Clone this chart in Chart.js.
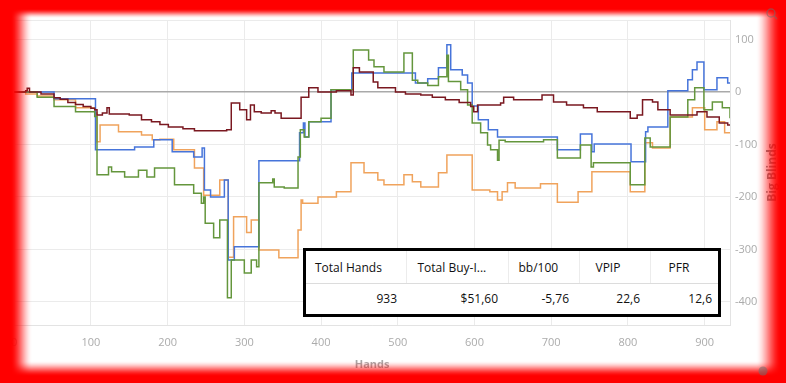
<!DOCTYPE html>
<html>
<head>
<meta charset="utf-8">
<script src="https://cdn.jsdelivr.net/npm/chart.js@4.4.1/dist/chart.umd.min.js"></script>
<style>
  html, body { margin: 0; padding: 0; background: #fff; }
  #wrap { position: relative; width: 786px; height: 383px; overflow: hidden; }
  #stats {
    position: absolute; left: 303px; top: 248px;
    width: 412px; height: 63px;
    border: 3px solid #000; background: #fff;
    font-family: "Open Sans", sans-serif; font-size: 12px; color: #111;
  }
  #stats table { border-collapse: collapse; table-layout: fixed; width: 412px; }
  #stats td { padding: 0; white-space: nowrap; overflow: hidden; }
  #stats tr.head td { height: 32px; border-bottom: 1px solid #dcdcdc; border-right: 1px solid #ececec; text-align: left; }
  #stats tr.head td:last-child { border-right: none; }
  #stats tr.vals td { height: 29px; text-align: right; }
</style>
</head>
<body>
<div id="wrap">
  <canvas id="chart" width="786" height="383"></canvas>
  <div id="stats">
    <table>
      <colgroup><col style="width:100px"><col style="width:102px"><col style="width:71px"><col style="width:71px"><col style="width:68px"></colgroup>
      <tr class="head">
        <td style="padding-left:9px">Total Hands</td>
        <td style="padding-left:11px">Total Buy-I...</td>
        <td style="padding-left:10px">bb/100</td>
        <td style="padding-left:16px">VPIP</td>
        <td style="padding-left:18px">PFR</td>
      </tr>
      <tr class="vals">
        <td style="padding-right:9px">933</td>
        <td style="padding-right:10px">$51,60</td>
        <td style="padding-right:10px">-5,76</td>
        <td style="padding-right:10px">22,6</td>
        <td style="padding-right:6px">12,6</td>
      </tr>
    </table>
  </div>
</div>
<script>
// Datos (mano, big blinds a partir de esa mano)
const redHands = [0, 15, 17, 20, 35, 52, 60, 70, 80, 90, 100, 105, 108, 115, 121, 124, 150, 166, 179, 190, 201, 220, 235, 277, 283, 294, 303, 308, 313, 322, 335, 340, 348, 374, 384, 396, 420, 439, 442, 450, 465, 468, 474, 497, 510, 530, 545, 562, 580, 595, 599, 604, 634, 638, 651, 688, 703, 720, 742, 760, 790, 803, 812, 819, 832, 839, 855, 890, 903, 919, 930, 933];
const redBB = [0, 2, 7, 0, -4, -11, -14, -20, -24, -28, -31, -34, -44, -40, -30, -42, -44, -53, -57, -62, -67, -70, -74, -72, -21, -34, -53, -25, -38, -40, -36, -40, -50, -10, 8, 0, 2, -6, 46, 38, 38, 19, 8, 0, -4, -6, -10, -15, -20, -28, -38, -25, -21, -10, -15, -6, -19, -25, -30, -38, -38, -50, -44, -15, -19, -34, -44, -38, -48, -59, -63, -63];

const greenHands = [0, 30, 52, 80, 105, 108, 123, 127, 144, 162, 173, 183, 209, 234, 244, 247, 249, 260, 268, 278, 283, 300, 309, 316, 319, 337, 339, 352, 370, 373, 378, 384, 400, 413, 442, 462, 469, 482, 508, 519, 526, 539, 553, 564, 566, 582, 591, 597, 608, 617, 621, 630, 632, 640, 690, 708, 738, 752, 755, 803, 822, 829, 855, 878, 887, 899, 910, 923, 933];
const greenBB = [0, -10, -28, -38, -47, -158, -143, -152, -162, -149, -162, -145, -177, -193, -212, -200, -250, -278, -244, -392, -320, -345, -320, -333, -173, -166, -181, -183, -124, -72, -86, -57, -50, 4, 80, 61, 48, 38, 74, 22, 17, 12, 29, 70, 20, 4, -25, -59, -78, -101, -110, -130, -92, -95, -91, -126, -101, -143, -135, -177, -88, -105, -48, -15, 8, -34, -19, -30, -50];

const blueHands = [0, 52, 106, 157, 182, 206, 234, 245, 248, 256, 274, 279, 287, 319, 372, 377, 379, 384, 413, 440, 523, 539, 553, 564, 569, 584, 591, 597, 605, 618, 630, 708, 738, 753, 756, 804, 823, 826, 852, 878, 884, 890, 899, 916, 930, 933];
const blueBB = [0, -13, -110, -105, -91, -114, -124, -107, -187, -200, -168, -320, -295, -131, -78, -59, -86, -57, 4, 36, 17, 25, 46, 90, 42, 32, 17, -27, -53, -72, -86, -110, -80, -114, -99, -133, -76, -67, 2, 23, 42, 57, 4, 27, 17, 17];

const orangeHands = [0, 15, 30, 52, 80, 105, 108, 112, 136, 166, 180, 190, 208, 235, 247, 268, 279, 286, 303, 309, 319, 345, 370, 374, 376, 396, 420, 439, 456, 474, 482, 508, 519, 530, 553, 564, 597, 620, 630, 636, 643, 653, 686, 708, 735, 753, 803, 822, 832, 855, 884, 900, 916, 926, 933];
const orangeBB = [0, -4, -8, -15, -30, -40, -95, -63, -76, -82, -91, -90, -110, -145, -197, -168, -315, -238, -268, -244, -301, -316, -263, -206, -212, -200, -190, -135, -154, -168, -177, -158, -171, -181, -154, -120, -187, -190, -206, -190, -173, -183, -175, -210, -190, -152, -190, -97, -107, -48, -30, -72, -57, -78, -78];

const xTicks = [0, 100, 200, 300, 400, 500, 600, 700, 800, 900];
const yTicks = [-400, -300, -200, -100, 0, 100];
const yMin = -444;
const yMax = 137;
const totalHands = 933;

function toPoints(hands, values) {
    return hands.map((h, i) => ({ x: h, y: values[i] }));
}

function serie(label, hands, values, color) {
    return {
        label: label,
        data: toPoints(hands, values),
        borderColor: color,
        borderWidth: 1.5,
        stepped: true,
        pointRadius: 0,
        fill: false
    };
}

// Titulo del eje Y, marco rojo difuminado e iconos
const marco = {
    id: 'marco',
    afterDraw(chart) {
        const ctx = chart.ctx;
        const area = chart.chartArea;
        ctx.save();
        ctx.translate(773, (area.top + area.bottom) / 2);
        ctx.rotate(-Math.PI / 2);
        ctx.font = 'bold 12px "Open Sans"';
        ctx.fillStyle = '#8c8c8c';
        ctx.textAlign = 'center';
        ctx.textBaseline = 'middle';
        ctx.fillText('Big Blinds', 0, 0);
        ctx.restore();

        const w = chart.width, h = chart.height;
        const off = document.createElement('canvas');
        off.width = w; off.height = h;
        const octx = off.getContext('2d');
        const img = octx.createImageData(w, h);
        const side = (d, half) => {
            let t = 0.5 - d / (2 * half);
            t = Math.max(0, Math.min(1, t));
            return t * t * (3 - 2 * t);
        };
        for (let y = 0; y < h; y++) {
            for (let x = 0; x < w; x++) {
                const aL = side(x - 21, 11);
                const aR = side(768 - x, 13);
                const aT = side(y - 13, 5);
                const aB = side(368 - y, 8);
                const a = 1 - (1 - aL) * (1 - aR) * (1 - aT) * (1 - aB);
                const k = (y * w + x) * 4;
                img.data[k] = 255;
                img.data[k + 1] = 0;
                img.data[k + 2] = 0;
                img.data[k + 3] = Math.round(a * 255);
            }
        }
        octx.putImageData(img, 0, 0);
        ctx.drawImage(off, 0, 0);

        // iconos
        ctx.save();
        ctx.strokeStyle = 'rgba(110,110,110,0.55)';
        ctx.lineWidth = 1.3;
        ctx.beginPath();
        ctx.arc(771, 13, 4, 0, Math.PI * 2);
        ctx.moveTo(774, 16);
        ctx.lineTo(777, 19);
        ctx.stroke();
        ctx.fillStyle = 'rgba(110,110,110,0.55)';
        ctx.beginPath();
        ctx.arc(763, 371, 4.5, 0, Math.PI * 2);
        ctx.fill();
        ctx.restore();
    }
};

const ctx = document.getElementById('chart').getContext('2d');
new Chart(ctx, {
    type: 'line',
    data: {
        datasets: [
            serie('Net Won', redHands, redBB, '#7a1820'),
            serie('Showdown', greenHands, greenBB, '#64963c'),
            serie('All-in EV', blueHands, blueBB, '#4674da'),
            serie('Non-showdown', orangeHands, orangeBB, '#f0a35c')
        ]
    },
    options: {
        responsive: false,
        animation: false,
        devicePixelRatio: 1,
        layout: { padding: { left: 12, top: 20, right: 0, bottom: 0 } },
        plugins: {
            legend: { display: false },
            tooltip: { enabled: false }
        },
        scales: {
            x: {
                type: 'linear',
                min: 0,
                max: totalHands,
                afterBuildTicks: scale => { scale.ticks = xTicks.map(v => ({ value: v })); },
                afterFit: scale => { scale.height = 58; },
                grid: { color: '#ebebeb', drawTicks: false },
                border: { color: '#e3e3e3' },
                ticks: {
                    padding: 11,
                    maxRotation: 0,
                    color: '#ababab',
                    font: { family: 'Open Sans', size: 11 }
                },
                title: {
                    display: true,
                    text: 'Hands',
                    color: '#a8a8a8',
                    font: { family: 'Open Sans', size: 11, weight: 'bold' },
                    padding: { top: 0, bottom: 12 }
                }
            },
            y: {
                position: 'right',
                min: yMin,
                max: yMax,
                afterBuildTicks: scale => {
                    scale.ticks = [yMin].concat(yTicks, [yMax]).map(v => ({ value: v }));
                },
                afterFit: scale => { scale.width = 56; },
                grid: {
                    drawTicks: false,
                    color: c => (c.tick && c.tick.value === 0) ? '#a9a9a9' : '#ebebeb',
                    lineWidth: c => (c.tick && c.tick.value === 0) ? 1.5 : 1
                },
                border: { color: '#e3e3e3' },
                ticks: {
                    padding: 5,
                    color: '#ababab',
                    font: { family: 'Open Sans', size: 11 },
                    callback: v => (v % 100 === 0) ? v : ''
                }
            }
        }
    },
    plugins: [marco]
});
</script>
</body>
</html>
